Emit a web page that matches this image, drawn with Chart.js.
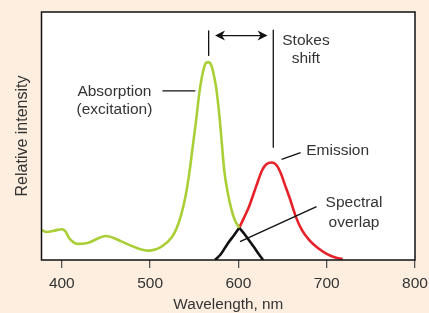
<!DOCTYPE html>
<html>
<head>
<meta charset="utf-8">
<script src="https://cdn.jsdelivr.net/npm/chart.js@4/dist/chart.umd.min.js"></script>
<style>
  html, body { margin: 0; padding: 0; background: #fdeee0; }
  #wrap { width: 429px; height: 313px; }
</style>
</head>
<body>
<div id="wrap"><canvas id="chart"></canvas></div>
<script>
// wavelength (nm) / relative intensity (0-100)
var absX = [377, 383, 391, 400, 404, 408, 413, 418, 430, 450, 468, 483, 498, 513, 525, 530, 535, 540, 544, 548, 552, 556, 560, 563, 566, 569.5, 572.5, 575, 578.5, 581, 584, 588, 592, 596, 601];
var absY = [12.1, 11.3, 11.8, 12.4, 11.6, 9.0, 7.2, 6.5, 7.0, 9.7, 7.4, 5.1, 3.8, 5.4, 9.4, 12.8, 18, 25.5, 34, 45, 56, 68, 76, 79.3, 79.8, 78.3, 74, 69, 58, 48, 36, 27, 20.5, 16, 13];

var absTailX = [601, 607, 612, 618, 623, 628];
var absTailY = [13, 10.4, 8.0, 5.0, 2.4, 0];

var emHeadX = [573.5, 580, 588, 595, 601];
var emHeadY = [0, 2.3, 6.7, 10, 13];

var emX = [601, 606, 612, 620, 627, 632, 638, 643, 648, 653, 657.6, 665, 672, 680, 690, 699, 708, 718];
var emY = [13, 16.8, 21.5, 29.6, 36.3, 38.7, 39.3, 38.3, 35, 30, 25.5, 17.5, 12, 8.1, 4.8, 2.7, 1.2, 0.4];

var xTicks = [400, 500, 600, 700, 800];

var green = '#aacf36';
var red = '#e62129';
var black = '#111111';
var textColor = '#333333';
var fontFamily = '"Liberation Sans", Arial, sans-serif';

function pts(xs, ys) {
    var out = [];
    for (var i = 0; i < xs.length; i++) out.push({ x: xs[i], y: ys[i] });
    return out;
}

function lineSet(xs, ys, color) {
    return {
        data: pts(xs, ys),
        borderColor: color,
        borderWidth: 2.6,
        pointRadius: 0,
        showLine: true,
        fill: false,
        cubicInterpolationMode: 'monotone'
    };
}

function arrowHead(ctx, x, y, dir) {
    // dir = 1 points right, -1 points left
    ctx.beginPath();
    ctx.moveTo(x, y);
    ctx.lineTo(x - dir * 10, y - 5);
    ctx.lineTo(x - dir * 7, y);
    ctx.lineTo(x - dir * 10, y + 5);
    ctx.closePath();
    ctx.fill();
}

var annotations = {
    id: 'annotations',
    beforeDraw: function (chart) {
        var a = chart.chartArea, ctx = chart.ctx;
        ctx.save();
        ctx.fillStyle = '#ffffff';
        ctx.fillRect(a.left, a.top, a.right - a.left, a.bottom - a.top);
        ctx.restore();
    },
    afterDraw: function (chart) {
        var ctx = chart.ctx, a = chart.chartArea;
        var sx = chart.scales.x, sy = chart.scales.y;
        function X(v) { return sx.getPixelForValue(v); }
        function Y(v) { return sy.getPixelForValue(v); }

        ctx.save();
        // frame
        ctx.strokeStyle = black;
        ctx.lineWidth = 1.5;
        ctx.strokeRect(a.left, a.top, a.right - a.left, a.bottom - a.top);

        // leader lines and markers
        ctx.strokeStyle = black;
        ctx.lineWidth = 1.3;
        function seg(x1, y1, x2, y2) {
            ctx.beginPath();
            ctx.moveTo(X(x1), Y(y1));
            ctx.lineTo(X(x2), Y(y2));
            ctx.stroke();
        }
        seg(566.3, 92.6, 566.3, 82.3);
        seg(639.5, 92.8, 639.5, 45.3);
        seg(513.9, 68.2, 551.2, 68.2);
        seg(648.9, 40.6, 670.4, 43.3);
        seg(601.8, 7.4, 688.5, 21.5);

        // Stokes shift double arrow
        var ay = Y(90.5), ax1 = X(573.5), ax2 = X(633);
        ctx.beginPath();
        ctx.moveTo(ax1 + 6, ay);
        ctx.lineTo(ax2 - 6, ay);
        ctx.stroke();
        ctx.fillStyle = black;
        arrowHead(ctx, ax1, ay, -1);
        arrowHead(ctx, ax2, ay, 1);

        // labels
        ctx.fillStyle = textColor;
        ctx.font = '15.5px ' + fontFamily;
        ctx.textBaseline = 'middle';
        ctx.textAlign = 'center';
        ctx.fillText('Stokes', X(676.5), Y(88.3));
        ctx.fillText('shift', X(676.5), Y(81));
        ctx.fillText('Absorption', X(459.6), Y(67.9));
        ctx.fillText('(excitation)', X(459.6), Y(60.5));
        ctx.fillText('Spectral', X(730.9), Y(22.9));
        ctx.fillText('overlap', X(730.9), Y(15.2));
        ctx.textAlign = 'left';
        ctx.fillText('Emission', X(676.8), Y(44));

        // axis titles
        ctx.textAlign = 'center';
        ctx.font = '15.3px ' + fontFamily;
        ctx.fillText('Wavelength, nm', (a.left + a.right) / 2, a.bottom + 45);
        ctx.font = '16px ' + fontFamily;
        ctx.translate(a.left - 19, (a.top + a.bottom) / 2);
        ctx.rotate(-Math.PI / 2);
        ctx.fillText('Relative intensity', 0, 0);
        ctx.restore();
    }
};

new Chart(document.getElementById('chart'), {
    type: 'scatter',
    data: {
        datasets: [
            lineSet(absX, absY, green),
            lineSet(absTailX, absTailY, black),
            lineSet(emHeadX, emHeadY, black),
            lineSet(emX, emY, red)
        ]
    },
    options: {
        responsive: true,
        maintainAspectRatio: false,
        animation: false,
        events: [],
        layout: { padding: { left: 0, top: 12, right: 14, bottom: 0 } },
        plugins: { legend: { display: false }, tooltip: { enabled: false } },
        scales: {
            x: {
                type: 'linear',
                min: 377,
                max: 800,
                afterBuildTicks: function (scale) {
                    scale.ticks = xTicks.map(function (v) { return { value: v }; });
                },
                afterFit: function (scale) {
                    scale.height = 53;
                    scale.paddingLeft = 0;
                    scale.paddingRight = 0;
                },
                border: { display: false },
                grid: { drawOnChartArea: false, drawTicks: true, tickLength: 8, color: '#555555', lineWidth: 1.3 },
                ticks: { color: textColor, padding: 6, maxRotation: 0, font: { family: fontFamily, size: 15.5 } }
            },
            y: {
                min: 0,
                max: 100,
                afterFit: function (scale) {
                    scale.width = 41.5;
                    scale.paddingTop = 0;
                    scale.paddingBottom = 0;
                },
                border: { display: false },
                grid: { display: false },
                ticks: { display: false }
            }
        }
    },
    plugins: [annotations]
});
</script>
</body>
</html>
